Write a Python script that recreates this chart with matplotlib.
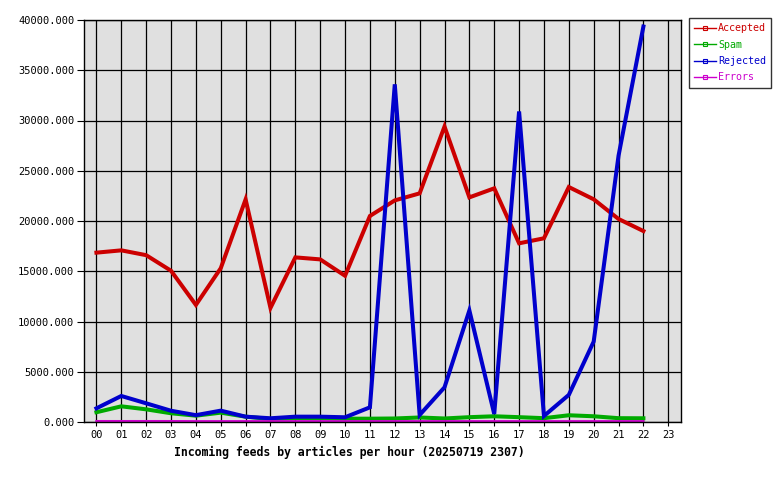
import matplotlib
matplotlib.use('Agg')
import matplotlib.pyplot as plt
from matplotlib.lines import Line2D

# данные по часам
hours = ['00', '01', '02', '03', '04', '05', '06', '07', '08', '09', '10', '11',
         '12', '13', '14', '15', '16', '17', '18', '19', '20', '21', '22', '23']

accepted = [16850, 17080, 16600, 15050, 11650, 15300, 22150, 11350, 16380, 16180,
            14550, 20500, 22050, 22750, 29400, 22350, 23250, 17780, 18280, 23380,
            22160, 20200, 19000]
spam = [970, 1560, 1260, 870, 630, 930, 530, 300, 400, 380, 330, 330,
        350, 450, 350, 480, 570, 480, 380, 670, 570, 380, 370]
rejected = [1360, 2590, 1860, 1120, 680, 1130, 530, 370, 530, 530, 470, 1460,
            33600, 700, 3450, 11100, 800, 30900, 600, 2700, 8000, 26500, 39350]
errors = [90, 90, 90, 90, 80, 80, 80, 80, 80, 80, 80, 80,
          80, 80, 80, 80, 80, 80, 80, 80, 80, 80, 80]

series = [('Accepted', accepted, '#cc0000', 2.9),
          ('Spam', spam, '#00aa00', 2.9),
          ('Rejected', rejected, '#0000cc', 2.9),
          ('Errors', errors, '#cc00cc', 1.6)]

mono = 'DejaVu Sans Mono'

fig = plt.figure(figsize=(7.8, 4.8), dpi=100)
ax = fig.add_axes([84 / 780, 58 / 480, 596.7 / 780, 402 / 480])
ax.set_facecolor('#e0e0e0')

x = list(range(len(accepted)))
handles = []
for name, vals, color, lw in series:
    ax.plot(x, vals, color=color, lw=lw, solid_joinstyle='miter', clip_on=False)
    handles.append(Line2D([0], [0], color=color, lw=1, marker='s',
                          markersize=3, fillstyle='none', markeredgewidth=0.8,
                          label=name))

ax.set_xlim(-0.5, 23.5)
ax.set_ylim(0, 40000)
ax.set_xticks(range(len(hours)))
ax.set_xticklabels(hours, family=mono, fontsize=7.5)
yt = list(range(0, 40001, 5000))
ax.set_yticks(yt)
ax.set_yticklabels([f'{v:.3f}' for v in yt], family=mono, fontsize=7.5)
ax.tick_params(axis='y', length=5, width=0.8, pad=2)
ax.tick_params(axis='x', length=3, width=0.8, pad=3)

ax.grid(True, color='black', lw=0.9)
ax.set_axisbelow(True)
for s in ax.spines.values():
    s.set_linewidth(1.0)

fig.text(349 / 780, 1 - 452 / 480,
         'Incoming feeds by articles per hour (20250719 2307)',
         family=mono, fontsize=8.3, fontweight='bold', ha='center', va='center')

leg = fig.legend(handles=handles, loc='upper left',
                 bbox_to_anchor=(689 / 780, 1 - 18 / 480),
                 prop={'family': mono, 'size': 7.2}, labelcolor='linecolor',
                 frameon=True, fancybox=False, edgecolor='black',
                 handlelength=2.2, handletextpad=0.2, labelspacing=0.65,
                 borderpad=0.5, borderaxespad=0)
leg.get_frame().set_linewidth(1.0)

plt.savefig('out.png', dpi=100)
